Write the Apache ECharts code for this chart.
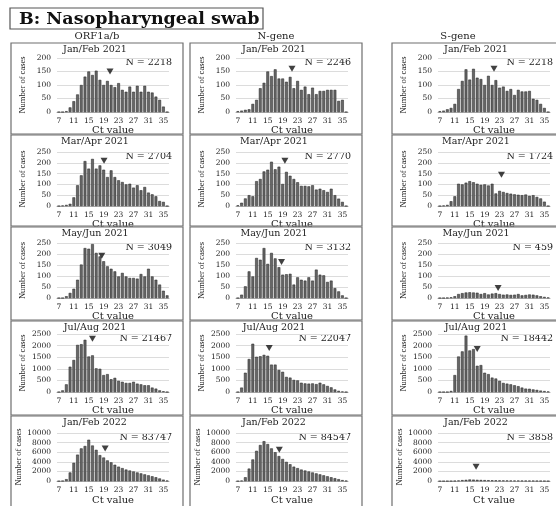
<!DOCTYPE html>
<html>
<head>
<meta charset="utf-8">
<script src="https://cdn.jsdelivr.net/npm/echarts@6/dist/echarts.min.js"></script>
<style>
  html, body { margin: 0; padding: 0; background: #fff; }
  #chart { width: 556px; height: 506px; }
</style>
</head>
<body>
<div id="chart"></div>
<script>
// Ct value bins (one bar per integer Ct)
const ctValues = [7, 8, 9, 10, 11, 12, 13, 14, 15, 16, 17, 18, 19, 20, 21, 22, 23, 24, 25, 26, 27, 28, 29, 30, 31, 32, 33, 34, 35, 36];
const ctTickLabels = [7, 11, 15, 19, 23, 27, 31, 35];

const geneNames = ['ORF1a/b', 'N-gene', 'S-gene'];
const periodNames = ['Jan/Feb 2021', 'Mar/Apr 2021', 'May/Jun 2021', 'Jul/Aug 2021', 'Jan/Feb 2022'];
const periodAxisMax = [200, 250, 250, 2500, 10000];
const periodAxisStep = [50, 50, 50, 500, 2000];

// case counts per Ct bin
const orf1abJanFeb2021 = [0, 0, 3, 17, 40, 65, 100, 131, 150, 137, 153, 119, 100, 115, 100, 92, 107, 82, 75, 94, 75, 97, 75, 97, 75, 72, 57, 45, 20, 0];
const nGeneJanFeb2021  = [3, 5, 8, 10, 30, 45, 88, 108, 150, 133, 158, 124, 124, 112, 130, 88, 115, 82, 94, 66, 90, 66, 78, 78, 82, 82, 82, 41, 45, 0];
const sGeneJanFeb2021  = [3, 5, 10, 15, 30, 85, 115, 158, 120, 160, 127, 122, 100, 134, 100, 118, 90, 94, 78, 85, 63, 82, 76, 76, 78, 49, 45, 30, 15, 0];

const orf1abMarApr2021 = [0, 2, 5, 10, 40, 96, 142, 208, 173, 218, 173, 188, 168, 134, 165, 134, 119, 111, 100, 103, 85, 96, 73, 88, 62, 54, 45, 23, 19, 0];
const nGeneMarApr2021  = [3, 15, 35, 50, 45, 115, 125, 160, 168, 205, 170, 182, 102, 158, 140, 125, 110, 93, 93, 91, 96, 76, 80, 73, 65, 80, 50, 34, 19, 0];
const sGeneMarApr2021  = [0, 2, 5, 22, 45, 103, 100, 108, 115, 110, 103, 98, 100, 95, 103, 58, 70, 65, 60, 57, 54, 52, 50, 53, 47, 50, 42, 35, 20, 0];

const orf1abMayJun2021 = [0, 0, 8, 23, 42, 83, 152, 227, 224, 245, 205, 189, 167, 144, 133, 121, 98, 114, 98, 91, 91, 88, 109, 98, 133, 98, 83, 61, 33, 12];
const nGeneMayJun2021  = [0, 15, 53, 121, 98, 182, 174, 227, 155, 205, 180, 140, 106, 108, 110, 61, 94, 83, 79, 94, 79, 129, 106, 103, 73, 79, 45, 30, 12, 0];
const sGeneMayJun2021  = [0, 0, 1, 3, 8, 18, 22, 25, 26, 25, 24, 18, 22, 16, 20, 22, 18, 15, 16, 14, 15, 18, 12, 14, 16, 15, 12, 8, 5, 2];

const orf1abJulAug2021 = [0, 70, 330, 1090, 1380, 2030, 2060, 2250, 1530, 1580, 1020, 1000, 730, 770, 550, 610, 480, 440, 390, 390, 440, 360, 330, 290, 290, 190, 145, 70, 30, 0];
const nGeneJulAug2021  = [0, 190, 830, 1420, 2080, 1520, 1540, 1600, 1560, 1180, 1180, 950, 870, 650, 620, 520, 500, 400, 370, 360, 370, 340, 400, 330, 260, 200, 110, 50, 20, 0];
const sGeneJulAug2021  = [0, 0, 0, 45, 730, 1530, 1750, 2430, 1790, 1850, 1130, 1160, 830, 770, 620, 580, 480, 390, 360, 330, 290, 250, 190, 145, 140, 110, 90, 60, 40, 20];

const orf1abJanFeb2022 = [0, 50, 400, 1800, 3800, 5500, 6800, 7300, 8600, 7400, 6500, 5400, 4900, 4300, 3900, 3400, 3000, 2700, 2400, 2200, 2000, 1800, 1600, 1400, 1200, 1000, 800, 550, 300, 100];
const nGeneJanFeb2022  = [0, 100, 800, 2600, 4500, 6300, 7500, 8300, 7700, 6800, 6000, 5200, 4600, 4000, 3500, 3000, 2700, 2400, 2200, 2000, 1800, 1600, 1400, 1200, 1000, 800, 600, 400, 200, 80];
const sGeneJanFeb2022  = [0, 0, 5, 20, 60, 120, 200, 260, 330, 300, 260, 230, 200, 180, 160, 150, 140, 130, 120, 110, 100, 95, 90, 85, 80, 70, 60, 45, 30, 15];

// total cases per panel (rows = periods, columns = genes)
const totalCases = [
  [2218, 2246, 2218],
  [2704, 2770, 1724],
  [3049, 3132, 459],
  [21467, 22047, 18442],
  [83747, 84547, 3858]
];
// median Ct per panel and the height at which its marker sits
const medianCt = [
  [20.7, 21.5, 21.5],
  [19.1, 19.6, 23.5],
  [18.5, 18.7, 22.6],
  [16.0, 15.4, 17.0],
  [19.4, 18.1, 16.7]
];
const medianMarkLevel = [
  [150, 160, 160],
  [210, 210, 145],
  [192, 164, 45],
  [2300, 1900, 1850],
  [6800, 6500, 3000]
];

const countsTable = [
  [orf1abJanFeb2021, nGeneJanFeb2021, sGeneJanFeb2021],
  [orf1abMarApr2021, nGeneMarApr2021, sGeneMarApr2021],
  [orf1abMayJun2021, nGeneMayJun2021, sGeneMayJun2021],
  [orf1abJulAug2021, nGeneJulAug2021, sGeneJulAug2021],
  [orf1abJanFeb2022, nGeneJanFeb2022, sGeneJanFeb2022]
];

// ---- layout ----
const SERIF = '"DejaVu Serif", "Liberation Serif", serif';
const NARROW = '"Liberation Serif", serif';
const panelLeft = [11, 190, 392];
const panelTop = [43, 135, 227, 321, 416];
const panelW = 172;
const panelH = [91, 91, 93, 94, 100];
const gridTop = [58, 152, 243, 334, 433];
const gridBottom = [112, 206, 298, 392, 490];
const gridOffsetX = 46;
const gridW = 112;

const grids = [], xAxes = [], yAxes = [], series = [], graphics = [];

graphics.push({
  type: 'rect', shape: { x: 10, y: 8, width: 253, height: 21 },
  style: { fill: '#fff', stroke: '#555', lineWidth: 1.2 }
});
graphics.push({
  type: 'text', x: 19, y: 19,
  style: { text: 'B: Nasopharyngeal swab', font: 'bold 17.5px ' + SERIF, fill: '#111', textVerticalAlign: 'middle' }
});

const headerX = [97, 276, 458];
geneNames.forEach((g, c) => {
  graphics.push({
    type: 'text', x: headerX[c], y: 36,
    style: { text: g, font: '10px ' + SERIF, fill: '#222', textAlign: 'center', textVerticalAlign: 'middle' }
  });
});

let k = 0;
for (let r = 0; r < periodNames.length; r++) {
  for (let c = 0; c < geneNames.length; c++) {
    const pl = panelLeft[c], pt = panelTop[r];
    graphics.push({
      type: 'rect', shape: { x: pl, y: pt, width: panelW, height: panelH[r] },
      style: { fill: 'none', stroke: '#6e6e6e', lineWidth: 1.2 }, z: 1
    });
    graphics.push({
      type: 'text', x: pl + panelW / 2 - 2, y: pt + 7,
      style: { text: periodNames[r], font: '9.5px ' + SERIF, fill: '#222', textAlign: 'center', textVerticalAlign: 'middle' }
    });
    graphics.push({
      type: 'text', x: pl + 161, y: gridTop[r] + 5,
      style: { text: 'N = ' + totalCases[r][c], font: '9.5px ' + SERIF, fill: '#222', textAlign: 'right', textVerticalAlign: 'middle' }
    });

    grids.push({
      left: pl + gridOffsetX, top: gridTop[r], width: gridW,
      height: gridBottom[r] - gridTop[r], containLabel: false
    });
    xAxes.push({
      type: 'value', gridIndex: k, min: 6.5, max: 36.5,
      name: 'Ct value', nameLocation: 'middle', nameGap: 12,
      nameTextStyle: { fontFamily: SERIF, fontSize: 10, color: '#222' },
      axisLine: { show: true, lineStyle: { color: '#aaa', width: 1 } },
      axisTick: { show: false },
      splitLine: { show: false },
      axisLabel: {
        customValues: ctTickLabels, margin: 5,
        fontFamily: SERIF, fontSize: 7.5, color: '#222'
      }
    });
    yAxes.push({
      type: 'value', gridIndex: k, min: 0, max: periodAxisMax[r], interval: periodAxisStep[r],
      name: 'Number of cases', nameLocation: 'middle', nameGap: 30, nameRotate: 90,
      nameTextStyle: { fontFamily: NARROW, fontSize: 8.5, color: '#222' },
      axisLine: { show: false }, axisTick: { show: false },
      splitLine: { show: true, lineStyle: { color: '#dcdcdc', width: 1 } },
      axisLabel: {
        margin: 6, fontFamily: SERIF, fontSize: 7.5, color: '#222',
        formatter: v => String(v)
      }
    });
    series.push({
      type: 'bar', xAxisIndex: k, yAxisIndex: k,
      data: ctValues.map((ct, i) => [ct, countsTable[r][c][i]]),
      barWidth: '74%',
      itemStyle: { color: '#676767', borderColor: '#1e1e1e', borderWidth: 0.5 },
      silent: true, animation: false
    });
    series.push({
      type: 'scatter', xAxisIndex: k, yAxisIndex: k,
      data: [[medianCt[r][c], medianMarkLevel[r][c]]],
      symbol: 'triangle', symbolRotate: 180, symbolSize: [7, 6],
      itemStyle: { color: '#111' }, silent: true, animation: false, z: 5
    });
    k++;
  }
}

const chart = echarts.init(document.getElementById('chart'), null, { renderer: 'canvas' });
chart.setOption({
  animation: false,
  backgroundColor: '#fff',
  grid: grids,
  xAxis: xAxes,
  yAxis: yAxes,
  series: series,
  graphic: { elements: graphics }
});
</script>
</body>
</html>
